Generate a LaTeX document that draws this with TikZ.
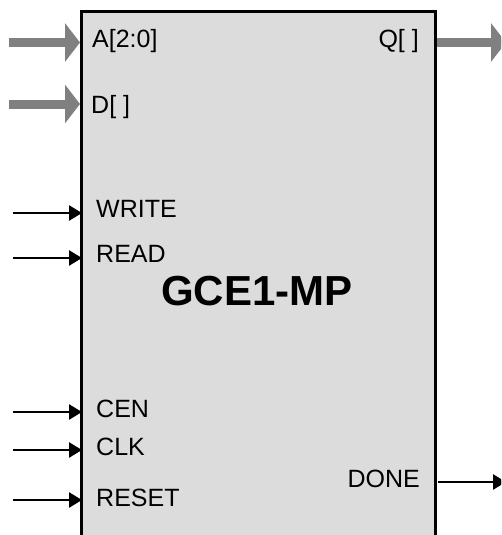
\documentclass[tikz,border=0pt]{standalone}
\usepackage{fontspec}
\setmainfont{Liberation Sans}
\usetikzlibrary{arrows.meta}
\definecolor{boxfill}{HTML}{DCDCDC}
\definecolor{busgray}{HTML}{808080}
\tikzset{
  chipbox/.style={draw=black, line width=2.5pt, fill=boxfill, rectangle, inner sep=0pt,
    minimum width=354pt, minimum height=535pt, anchor=north west},
  pinlabel/.style={anchor=base west, inner sep=0pt, font=\fontsize{25}{30}\selectfont},
  pinlabelr/.style={anchor=base east, inner sep=0pt, font=\fontsize{25}{30}\selectfont},
  titlelabel/.style={anchor=base, inner sep=0pt, font=\fontsize{42}{50}\selectfont\bfseries},
  busarrow/.style={draw=busgray, line width=9pt, -{Triangle[width=38pt,length=15pt]}, color=busgray},
  sigarrow/.style={draw=black, line width=2.6pt, -{Triangle[width=15pt,length=13pt]}},
}
\begin{document}
\begin{tikzpicture}[x=1pt,y=-1pt]
\path[use as bounding box, clip] (0,0) rectangle (501,535);
\node[chipbox] (chip) at (80,10.5) {};
% labels
\node[pinlabel] (la) at (92,48) {A[2:0]};
\node[pinlabel] (ld) at (91,113) {D[ ]};
\node[pinlabelr] (lq) at (419,48) {Q[ ]};
\node[pinlabel] (lw) at (96,217) {WRITE};
\node[pinlabel] (lr) at (96,262) {READ};
\node[pinlabel] (lc) at (96,417) {CEN};
\node[pinlabel] (lk) at (96,455) {CLK};
\node[pinlabel] (ls) at (96,506) {RESET};
\node[pinlabelr] (ln) at (420,487) {DONE};
\node[titlelabel] (title) at (257,305) {GCE1-MP};
% arrow ends
\coordinate (ain) at (9,42.5);
\coordinate (din) at (9,104);
\coordinate (qout) at (506,42.5);
\coordinate (win) at (13,213);
\coordinate (rin) at (13,258);
\coordinate (cin) at (13,412);
\coordinate (kin) at (13,450);
\coordinate (sin) at (13,500);
\coordinate (nout) at (506,482);
\draw[busarrow] (ain) -- (ain -| chip.west);
\draw[busarrow] (din) -- (din -| chip.west);
\draw[busarrow] (qout -| chip.east) -- (qout);
\draw[sigarrow] (win) -- ([xshift=2pt]win -| chip.west);
\draw[sigarrow] (rin) -- ([xshift=2pt]rin -| chip.west);
\draw[sigarrow] (cin) -- ([xshift=2pt]cin -| chip.west);
\draw[sigarrow] (kin) -- ([xshift=2pt]kin -| chip.west);
\draw[sigarrow] (sin) -- ([xshift=2pt]sin -| chip.west);
\draw[sigarrow] ([xshift=1.5pt]nout -| chip.east) -- (nout);
\end{tikzpicture}
\end{document}
